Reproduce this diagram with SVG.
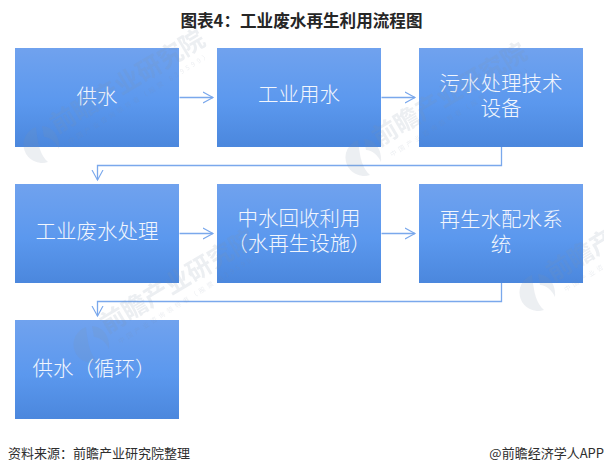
<svg xmlns="http://www.w3.org/2000/svg" width="604" height="474" viewBox="0 0 604 474">
  <defs>
    <linearGradient id="boxFill" x1="0" y1="0" x2="0" y2="1">
      <stop offset="0" stop-color="#70a2ee"/>
      <stop offset="0.55" stop-color="#5b98ee"/>
      <stop offset="1" stop-color="#4b87dd"/>
    </linearGradient>
    <marker id="openArrow" markerUnits="userSpaceOnUse" markerWidth="12" markerHeight="14" refX="10.5" refY="6.5" orient="auto">
      <path d="M0.5 1 L10.500 6.500 L0.500 12" fill="none" stroke="#7aa8ec" stroke-width="1.1"/>
    </marker>
    <g id="stamp">
      <path d="M-4 -18 A18 18 0 1 0 8 17 C0 10 -2 0 -4 -18 Z M2 -19 C14 -18 20 -8 19 4 C16 -3 10 -8 4 -8 Z" fill="#8391a8"/>
      <text class="mark" x="17" y="-11" font-size="25" font-weight="700" transform="rotate(-31 17 -11)">前瞻产业研究院</text>
      <text class="mark" x="30" y="-1" font-size="6.500" letter-spacing="3" transform="rotate(-32 30 -1)">中国产业咨询领导者（股票 839599）</text>
    </g>
  </defs>
  <style>
    text { font-family: "Noto Sans CJK SC", "Noto Sans", sans-serif; }
    .box { fill: url(#boxFill); }
    .label { fill: #f2f6fd; font-size: 20.500px; text-anchor: middle; font-weight: 300; }
    .title { fill: #262626; font-size: 16.600px; font-weight: 700; text-anchor: middle; }
    .note { fill: #2e2e2e; font-size: 13px; }
    .link { fill: none; stroke: #7aa8ec; stroke-width: 1.3; }
    .mark { fill: #8391a8; }
    .stamp { opacity: 0.15; }
  </style>

  <rect width="604" height="474" fill="#ffffff"/>
  <text class="title" x="301.500" y="27">图表4：工业废水再生利用流程图</text>

  <g id="node-supply"><rect class="box" x="15" y="48" width="164" height="99"/><text class="label" x="97" y="104">供水</text></g>
  <g id="node-industrial-use"><rect class="box" x="217" y="48" width="164" height="99"/><text class="label" x="299" y="102">工业用水</text></g>
  <g id="node-treatment-equipment"><rect class="box" x="419" y="48" width="164" height="99"/><text class="label" x="501" y="91"><tspan x="501">污水处理技术</tspan><tspan x="501" dy="25">设备</tspan></text></g>
  <g id="node-wastewater"><rect class="box" x="15" y="184" width="164" height="99"/><text class="label" x="97" y="239">工业废水处理</text></g>
  <g id="node-reclaimed"><rect class="box" x="217" y="184" width="164" height="99"/><text class="label" x="299" y="226"><tspan x="299">中水回收利用</tspan><tspan x="299" dy="25">（水再生设施）</tspan></text></g>
  <g id="node-distribution"><rect class="box" x="419" y="184" width="164" height="99"/><text class="label" x="501" y="227"><tspan x="501">再生水配水系</tspan><tspan x="501" dy="25">统</tspan></text></g>
  <g id="node-supply-cycle"><rect class="box" x="15" y="320" width="164" height="99"/><text class="label" x="94" y="376">供水（循环）</text></g>

  <g id="connectors">
    <path class="link" marker-end="url(#openArrow)" d="M179.500 97.500 H213"/>
    <path class="link" marker-end="url(#openArrow)" d="M381.500 97.500 H415"/>
    <path class="link" marker-end="url(#openArrow)" d="M501.500 147 V165.500 H97.500 V180"/>
    <path class="link" marker-end="url(#openArrow)" d="M179.500 233.500 H213"/>
    <path class="link" marker-end="url(#openArrow)" d="M381.500 233.500 H415"/>
    <path class="link" marker-end="url(#openArrow)" d="M501.500 283 V301.500 H97.500 V316"/>
  </g>

  <g id="watermarks" class="stamp">
    <use href="#stamp" x="40" y="145"/>
    <use href="#stamp" x="362" y="158"/>
    <use href="#stamp" x="90" y="345"/>
    <use href="#stamp" x="536" y="293"/>
  </g>

  <text class="note" x="8" y="458">资料来源：前瞻产业研究院整理</text>
  <text class="note" x="604" y="458" text-anchor="end">@前瞻经济学人APP</text>
</svg>
